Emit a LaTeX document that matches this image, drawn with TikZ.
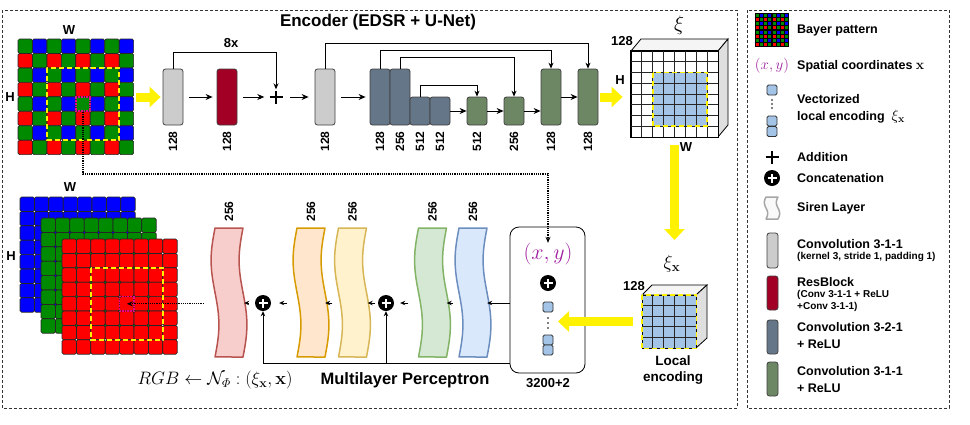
\documentclass[tikz,border=0pt]{standalone}
\usepackage{fix-cm}
\usepackage{amsmath,amssymb}
\usepackage[no-math]{fontspec}
\setmainfont{Liberation Sans}
\usetikzlibrary{positioning,arrows.meta,calc}

\definecolor{bay0}{HTML}{008A00}
\definecolor{bay1}{HTML}{0000FF}
\definecolor{bay2}{HTML}{FF0000}
\definecolor{bay3}{HTML}{008A00}
\definecolor{convgray}{HTML}{CCCCCC}
\definecolor{resred}{HTML}{A20025}
\definecolor{downblue}{HTML}{647687}
\definecolor{upgreen}{HTML}{6D8764}
\definecolor{featblue}{HTML}{A3C4E6}
\definecolor{coordpurple}{HTML}{A020A0}
\definecolor{sirenRf}{HTML}{F8CECC}\definecolor{sirenRd}{HTML}{B85450}
\definecolor{sirenOf}{HTML}{FFE6CC}\definecolor{sirenOd}{HTML}{D79B00}
\definecolor{sirenYf}{HTML}{FFF2CC}\definecolor{sirenYd}{HTML}{D6B656}
\definecolor{sirenGf}{HTML}{D5E8D4}\definecolor{sirenGd}{HTML}{82B366}
\definecolor{sirenBf}{HTML}{DAE8FC}\definecolor{sirenBd}{HTML}{6C8EBF}

% wavy siren layer: name, cx, cy, width, height, fill, draw
\newcommand{\sirenshape}[7]{%
  \draw[sirenline,fill=#6,draw=#7]
    plot[domain=0:1,samples=24] ({#2-#4/2-0.14*#4*sin(360*\x)},{#3-#5/2+#5*\x})
    -- plot[domain=1:0,samples=24] ({#2+#4/2-0.14*#4*sin(360*\x)},{#3-#5/2+#5*\x})
    -- cycle;
  \node[minimum width=#4pt,minimum height=#5pt,inner sep=0] (#1) at (#2,#3) {};
}

\begin{document}
\begin{tikzpicture}[x=1pt,y=-1pt,
    blk/.style={rectangle,rounded corners=2.5pt,draw=black!75,line width=0.8pt,minimum width=20pt,inner sep=0},
    tallblk/.style={blk,minimum height=56pt},
    shortblk/.style={blk,minimum height=28pt},
    blklab/.style={rotate=90,inner sep=0,font=\bfseries\fontsize{12}{12}\selectfont},
    dimlab/.style={inner sep=0,font=\bfseries\fontsize{13}{13}\selectfont},
    pixcell/.style={draw=black!85,line width=0.7pt,rounded corners=1.5pt},
    pixsel/.style={draw=magenta,densely dotted,line width=1.6pt,minimum size=14.4pt,inner sep=0},
    yellowdash/.style={draw=yellow,line width=1.8pt,dash pattern=on 5pt off 3pt},
    gridline/.style={draw=black!85,line width=0.8pt},
    arr/.style={-{Stealth[length=7pt,width=6pt]},line width=0.9pt,shorten <=6pt,shorten >=4pt},
    arrc/.style={-{Stealth[length=7pt,width=6pt]},line width=0.9pt},
    skiparr/.style={-{Stealth[length=6pt,width=5pt]},line width=0.8pt},
    sarr/.style={-{Stealth[length=5pt,width=4.5pt]},line width=0.9pt},
    dotarr/.style={-{Stealth[length=6pt,width=5pt]},densely dotted,line width=1.2pt},
    yarr/.style={draw=yellow,line width=9pt,-{Triangle[length=11pt,width=20pt]}},
    sirenline/.style={line width=1.5pt,line join=round},
    catop/.style={circle,fill=black,inner sep=0,minimum size=16pt,
      path picture={\draw[white,line width=1.7pt]
        ([xshift=-4.5pt]path picture bounding box.center) -- ([xshift=4.5pt]path picture bounding box.center)
        ([yshift=-4.5pt]path picture bounding box.center) -- ([yshift=4.5pt]path picture bounding box.center);}},
    addop/.style={circle,inner sep=0,minimum size=15pt,
      path picture={\draw[black,line width=2.2pt]
        ([xshift=-6.5pt]path picture bounding box.center) -- ([xshift=6.5pt]path picture bounding box.center)
        ([yshift=-6.5pt]path picture bounding box.center) -- ([yshift=6.5pt]path picture bounding box.center);}},
    vecsq/.style={rectangle,rounded corners=1.5pt,draw=black!80,fill=featblue,line width=0.8pt,minimum size=10pt,inner sep=0},
    dashframe/.style={draw=black!80,line width=0.7pt,dash pattern=on 3pt off 2pt},
    legtxt/.style={anchor=west,inner sep=0,align=left,font=\bfseries\fontsize{12.5}{17}\selectfont},
    legsmall/.style={anchor=west,inner sep=0,align=left,font=\bfseries\fontsize{10}{12}\selectfont}
  ]
\useasboundingbox (0,0) rectangle (970,424);

\draw[dashframe] (2,10) rectangle (737,408);
\draw[dashframe] (747,10) rectangle (949,408);

% bayer input
\foreach \r in {0,...,7}
  \foreach \c in {0,...,7}{
    \pgfmathtruncatemacro\k{mod(\r,2)*2+mod(\c,2)}
    \draw[pixcell,fill=bay\k] ({18+14.45*\c},{39+14.45*\r}) rectangle ++(14.45,14.45);
  }
\node[inner sep=0,minimum width=115.6pt,minimum height=115.6pt] (bayer) at (75.8,96.8) {};
\draw[yellowdash] (46.9,67.9) rectangle (119.2,140.1);
\node[pixsel] (bpix) at (83,104) {};
\node[dimlab] at (69,30) {W};
\node[dimlab] at (10,97) {H};

% encoder
\node[font=\bfseries\fontsize{17}{17}\selectfont] at (378,22) {Encoder (EDSR + U-Net)};
\node[tallblk,fill=convgray] (c1) at (173,97) {};
\node[tallblk,fill=resred] (r1) at (227,97) {};
\node[addop] (add) at (276,97) {};
\node[tallblk,fill=convgray] (c2) at (325,97) {};
\node[tallblk,fill=downblue] (b1) at (380,97) {};
\node[tallblk,fill=downblue] (b2) at (400,97) {};
\node[shortblk,fill=downblue] (b3) at (420,111) {};
\node[shortblk,fill=downblue] (b4) at (440,111) {};
\node[shortblk,fill=upgreen] (g1) at (477,111) {};
\node[shortblk,fill=upgreen] (g2) at (514,111) {};
\node[tallblk,fill=upgreen] (g3) at (551,97) {};
\node[tallblk,fill=upgreen] (g4) at (588,97) {};

\foreach \n/\t in {c1/128,r1/128,c2/128,b1/128,b2/256,b3/512,b4/512,g1/512,g2/256,g3/128,g4/128}
  \node[blklab,anchor=east] at ([yshift=-6pt]\n.south) {\t};

\draw[yarr,shorten <=2pt,shorten >=2pt] (bayer.east |- c1) -- (c1.west);
\draw[arr] (c1) -- (r1);
\draw[arr] (r1) -- (add);
\draw[arr,shorten >=6pt] (add) -- (c2);
\draw[arr] (c2) -- (b1);
\draw[arrc] (b4) -- (g1);
\draw[arrc] (g1) -- (g2);
\draw[arrc] (g2.east) -- (g2.east -| g3.west);
\draw[arrc] (g3) -- (g4);

\draw[skiparr] (c1.north) -- ++(0,-16) -| (add.north);
\node[dimlab] at (231,43) {8x};
\draw[skiparr] (c2.north) -- ++(0,-25) -| (g4.north);
\draw[skiparr] (b1.north) -- ++(0,-18) -| (g3.north);
\draw[skiparr] (b2.north) -- ++(0,-11) -| (g2.north);
\draw[skiparr] (b3.north) -- ++(0,-11) -| (g1.north);

% feature map xi
\filldraw[fill=gray!8,line width=0.8pt] (631,51) -- (641,39) -- (728,39) -- (718,51) -- cycle;
\filldraw[fill=gray!25,line width=0.8pt] (718,51) -- (728,39) -- (728,125) -- (718,137) -- cycle;
\node[draw,fill=white,line width=0.8pt,minimum width=87pt,minimum height=86pt,inner sep=0] (feat) at (674.5,94) {};
\fill[featblue] (652.75,72.5) rectangle (707.125,126.25);
\foreach \i in {1,...,7}{
  \draw[gridline] ({631+10.875*\i},51) -- ({631+10.875*\i},137);
  \draw[gridline] (631,{51+10.75*\i}) -- (718,{51+10.75*\i});
}
\draw[line width=0.9pt] (feat.north west) rectangle (feat.south east);
\draw[yellowdash] (652.75,72.5) rectangle (707.125,126.25);
\node[dimlab] at (622,41) {128};
\node[font=\fontsize{21}{21}\selectfont] at (679,25) {$\xi$};
\node[dimlab] at (620,80) {H};
\node[dimlab] at (686,147) {W};
\draw[yarr,shorten <=2pt,shorten >=8pt] (g4.east) -- (feat.west |- g4);

% local encoding
\node[font=\fontsize{19}{19}\selectfont] (xix) at (672,264) {$\xi_{\mathbf{x}}$};
\draw[yarr,shorten <=8pt] (feat.south) -- (feat.south |- 0,240);
\filldraw[fill=gray!8,line width=0.8pt] (642,295) -- (652,285) -- (707,285) -- (696,295) -- cycle;
\filldraw[fill=gray!25,line width=0.8pt] (696,295) -- (707,285) -- (707,338) -- (696,348) -- cycle;
\node[draw,fill=featblue,line width=0.8pt,minimum width=54pt,minimum height=53pt,inner sep=0] (loc) at (669,321.5) {};
\foreach \i in {1,...,4}{
  \draw[gridline] ({642+10.8*\i},295) -- ({642+10.8*\i},348);
  \draw[gridline] (642,{295+10.6*\i}) -- (696,{295+10.6*\i});
}
\draw[yellowdash] (loc.north west) rectangle (loc.south east);
\node[dimlab] at (634,286) {128};
\node[dimlab,align=center,font=\bfseries\fontsize{13.5}{16}\selectfont] at (673,370) {Local\\encoding};

% coordinates + vector box
\node[draw,rounded corners=9pt,line width=0.8pt,minimum width=75pt,minimum height=146pt] (vec) at (547.5,300) {};
\node[text=coordpurple,inner sep=0,font=\fontsize{22}{22}\selectfont] (xylab) at (548,254) {$(x,y)$};
\node[catop] (cat0) at (548,283) {};
\node[vecsq] (v1) at (548,307) {};
\coordinate (vdots) at (548,323);
\foreach \d in {-5,0,5} \fill ({548},{323+\d}) circle (0.9pt);
\node[vecsq] (v2) at (548,340) {};
\node[vecsq] (v3) at (548,350) {};
\node[dimlab] at (548,383) {3200+2};
\draw[yarr,shorten <=9pt,shorten >=10pt] (loc.west) -- (vdots |- loc.west);
\draw[dotarr] (bpix.south) -- ++(0,62) -| (xylab.north);

% mlp
\sirenshape{pink}{229}{292.5}{28}{129}{sirenRf}{sirenRd}
\sirenshape{orange}{311}{292.5}{28}{129}{sirenOf}{sirenOd}
\sirenshape{yellowl}{352.5}{292.5}{28}{129}{sirenYf}{sirenYd}
\sirenshape{greenl}{432.5}{292.5}{28}{129}{sirenGf}{sirenGd}
\sirenshape{bluel}{473}{292.5}{28}{129}{sirenBf}{sirenBd}
\foreach \n in {pink,orange,yellowl,greenl,bluel}
  \node[blklab,anchor=west] at ([yshift=6pt]\n.north) {256};
\node[catop] (cat1) at (263,303) {};
\node[catop] (cat2) at (386,303) {};

\draw[sarr] (vec.west |- cat2) -- (bluel.east |- cat2);
\draw[sarr,shorten <=6pt] (bluel.west |- cat2) -- (greenl.east |- cat2);
\draw[sarr,shorten <=10pt,shorten >=6pt] (greenl.west |- cat2) -- (cat2);
\draw[sarr,shorten <=3pt,shorten >=1pt] (cat2) -- (yellowl.east |- cat2);
\draw[sarr,shorten <=6pt] (yellowl.west |- cat2) -- (orange.east |- cat2);
\draw[sarr,shorten <=10pt,shorten >=8pt] (orange.west |- cat1) -- (cat1);
\draw[sarr,shorten <=6pt,shorten >=1pt] (cat1) -- (pink.east |- cat1);
\coordinate (bus) at ([yshift=10pt]vec.south west);
\draw[sarr] (bus) -| (cat1.south);
\draw[sarr] (bus -| cat2) -- (cat2.south);

% rgb output
\foreach \ox/\oy/\col in {20/197/bay1,41/218/bay0,62/239/bay2}
  \foreach \r in {0,...,7}
    \foreach \c in {0,...,7}
      \draw[pixcell,fill=\col] ({\ox+14.4*\c},{\oy+14.4*\r}) rectangle ++(14.4,14.4);
\draw[yellowdash] (90.8,267.8) rectangle (163,340);
\node[pixsel] (opix) at (126.8,303.8) {};
\node[dimlab] at (70,187) {W};
\node[dimlab] at (11,256) {H};
\draw[dotarr,shorten <=11pt] (pink.west |- opix) -- (opix.center);

\node[font=\fontsize{18}{18}\selectfont] at (215,380) {$RGB \leftarrow \mathcal{N}_{\varPhi} : (\xi_{\mathbf{x}}, \mathbf{x})$};
\node[font=\bfseries\fontsize{16.5}{16.5}\selectfont] at (405,380) {Multilayer Perceptron};

% legend
\fill[black] (755,13) rectangle (789,47);
\foreach \r in {0,...,7}
  \foreach \c in {0,...,7}{
    \pgfmathtruncatemacro\k{mod(\r,2)*2+mod(\c,2)}
    \fill[bay\k] ({755.8+4.2*\c},{13.8+4.2*\r}) rectangle ++(3,3);
  }
\node[legtxt] at (797,30) {Bayer pattern};
\node[text=coordpurple,inner sep=0,font=\fontsize{15}{15}\selectfont] at (772,66) {$(x,y)$};
\node[legtxt] at (797,66) {Spatial coordinates {\fontsize{14}{14}\selectfont$\mathbf{x}$}};
\node[vecsq] (lv1) at (772,90) {};
\foreach \d in {-4,0,4} \fill ({772},{104+\d}) circle (0.8pt);
\node[vecsq] (lv2) at (772,121) {};
\node[vecsq] (lv3) at (772,131.5) {};
\node[legtxt] at (797,108.5) {Vectorized\\local encoding\ \ {\fontsize{15}{15}\selectfont$\xi_{\mathbf{x}}$}};
\node[addop] (ladd) at (772,157) {};
\node[legtxt] at (797,157) {Addition};
\node[catop] (lcat) at (772,178) {};
\node[legtxt] at (797,178) {Concatenation};
\sirenshape{lsiren}{772}{208}{12}{22}{gray!5}{gray!70}
\node[legtxt] at (797,208) {Siren Layer};
\node[blk,fill=convgray,minimum width=11pt,minimum height=35pt] (lconv) at (772.5,250.5) {};
\node[legtxt] at (797,244) {Convolution 3-1-1};
\node[legsmall] at (797,257) {(kernel 3, stride 1, padding 1)};
\node[blk,fill=resred,minimum width=11pt,minimum height=34pt] (lres) at (772.5,293) {};
\node[legtxt] at (797,282) {ResBlock};
\node[legsmall] at (797,301) {(Conv 3-1-1 + ReLU\\+Conv 3-1-1)};
\node[blk,fill=downblue,minimum width=11pt,minimum height=34pt] (ldown) at (772.5,337) {};
\node[legtxt] at (797,336) {Convolution 3-2-1\\+ ReLU};
\node[blk,fill=upgreen,minimum width=11pt,minimum height=34pt] (lup) at (772.5,379) {};
\node[legtxt] at (797,380) {Convolution 3-1-1\\+ ReLU};

\end{tikzpicture}
\end{document}
